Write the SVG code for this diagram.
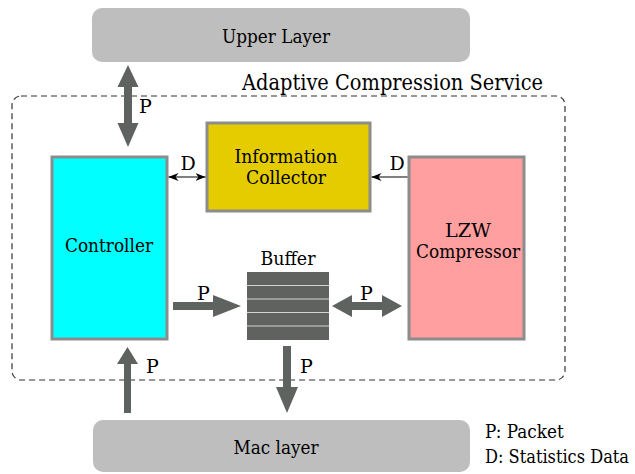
<svg xmlns="http://www.w3.org/2000/svg" width="635" height="474" viewBox="0 0 635 474">
  <style>
    text { font-family: "DejaVu Serif", "Liberation Serif", serif; font-size: 19px; fill: #000; }
    .mid { text-anchor: middle; }
    .layer { fill: #bebebe; }
    .node { stroke: #8c8c8c; stroke-width: 3; }
    .flow { fill: #5f635f; }
    .thin { stroke: #000; stroke-width: 1.2; fill: none; }
  </style>
  <defs>
    <marker id="head" viewBox="0 0 10 8" refX="10" refY="4" markerWidth="10" markerHeight="8" markerUnits="userSpaceOnUse" orient="auto-start-reverse">
      <path d="M0,0 L10,4 L0,8 L3,4 Z" fill="#000"/>
    </marker>
  </defs>

  <g id="upper-layer">
    <rect class="layer" x="92" y="8" width="378" height="54" rx="10"/>
    <text class="mid" x="276" y="43" textLength="108" lengthAdjust="spacingAndGlyphs">Upper Layer</text>
  </g>

  <g id="service">
    <rect x="12" y="96" width="553" height="284" rx="9" fill="none" stroke="#333" stroke-width="1.2" stroke-dasharray="6,4"/>
    <text x="242" y="90" style="font-size:22px" textLength="301" lengthAdjust="spacingAndGlyphs">Adaptive Compression Service</text>
  </g>

  <g id="controller">
    <rect class="node" x="52" y="157" width="115" height="182" fill="#00ffff"/>
    <text class="mid" x="109" y="252" textLength="88" lengthAdjust="spacingAndGlyphs">Controller</text>
  </g>

  <g id="collector">
    <rect class="node" x="207" y="123" width="163" height="88" fill="#e5cc00"/>
    <text class="mid" x="286" y="163" textLength="103" lengthAdjust="spacingAndGlyphs">Information</text>
    <text class="mid" x="286" y="184" textLength="80" lengthAdjust="spacingAndGlyphs">Collector</text>
  </g>

  <g id="compressor">
    <rect class="node" x="409" y="157" width="115" height="182" fill="#ff9f9f"/>
    <text class="mid" x="468" y="237" textLength="46" lengthAdjust="spacingAndGlyphs">LZW</text>
    <text class="mid" x="468" y="258" textLength="104" lengthAdjust="spacingAndGlyphs">Compressor</text>
  </g>

  <g id="buffer">
    <rect x="247" y="272" width="82" height="68" fill="#5f625e"/>
    <path d="M247,285.5H329M247,299H329M247,312.5H329M247,326H329" stroke="#d4d4d4" stroke-width="1.2"/>
    <text class="mid" x="288" y="265" textLength="55" lengthAdjust="spacingAndGlyphs">Buffer</text>
  </g>

  <g id="mac-layer">
    <rect class="layer" x="93" y="420" width="377" height="52" rx="10"/>
    <text class="mid" x="276" y="454" textLength="85" lengthAdjust="spacingAndGlyphs">Mac layer</text>
  </g>

  <g id="connectors">
    <!-- upper layer <-> controller -->
    <path class="flow" d="M128,65 L138.5,87 L132,87 L132,123 L138.5,123 L128,147 L117.5,123 L124,123 L124,87 L117.5,87 Z"/>
    <text x="139" y="113">P</text>
    <!-- controller -> buffer -->
    <path class="flow" d="M173,302 L213,302 L213,295 L241,306 L213,317 L213,310 L173,310 Z"/>
    <text x="197" y="300">P</text>
    <!-- buffer <-> compressor -->
    <path class="flow" d="M332,306 L352,295 L352,302 L382,302 L382,295 L402,306 L382,317 L382,310 L352,310 L352,317 Z"/>
    <text x="360" y="300">P</text>
    <!-- buffer -> mac layer -->
    <path class="flow" d="M283,346 L291,346 L291,387 L298,387 L287,413 L276,387 L283,387 Z"/>
    <text x="300" y="373">P</text>
    <!-- mac layer -> controller -->
    <path class="flow" d="M124,413 L124,364 L117,364 L127.5,347 L138,364 L131,364 L131,413 Z"/>
    <text x="146" y="373">P</text>
    <!-- statistics data -->
    <line class="thin" x1="168.5" y1="177" x2="205.5" y2="177" marker-start="url(#head)" marker-end="url(#head)"/>
    <text class="mid" x="188" y="170">D</text>
    <line class="thin" x1="407.5" y1="177" x2="371.5" y2="177" marker-end="url(#head)"/>
    <text class="mid" x="397" y="170">D</text>
  </g>

  <g id="legend">
    <text transform="translate(485,438) scale(0.82,1)" x="0" y="0" textLength="96" lengthAdjust="spacingAndGlyphs">P: Packet</text>
    <text transform="translate(485,463) scale(0.8,1)" x="0" y="0" textLength="180" lengthAdjust="spacingAndGlyphs">D: Statistics Data</text>
  </g>
</svg>
